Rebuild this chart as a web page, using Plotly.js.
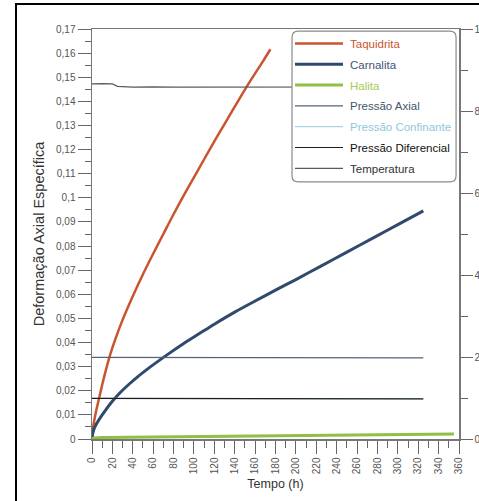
<!DOCTYPE html>
<html>
<head>
<meta charset="utf-8">
<script src="https://cdn.plot.ly/plotly-3.0.1.min.js"></script>
<style>
html,body{margin:0;padding:0;background:#fff;overflow:hidden;}
#wrap{position:relative;width:479px;height:501px;}
#chart{width:479px;height:501px;}
#frame{position:absolute;left:15px;top:3px;width:480px;height:520px;border-left:2px solid #000;border-top:2px solid #000;pointer-events:none;}
</style>
</head>
<body>
<div id="wrap"><div id="chart"></div><div id="frame"></div></div>
<script>
// ---- data ----
const tTaq = [0,0.5,1,2,4,7,10,14,18,23,30,40,50,60,70,80,90,100,110,120,130,140,150,160,168,175];
const vTaq = [0,0.0028,0.0045,0.0072,0.0115,0.017,0.0225,0.0292,0.0352,0.0415,0.0494,0.0592,0.0683,0.0768,0.085,0.0932,0.101,0.1085,0.116,0.1234,0.1306,0.1378,0.1449,0.1516,0.1568,0.1616];

const tCar = [0,0.5,1,2,4,6,9,13,17,21,28,36,45,55,65,75,90,105,120,140,160,180,200,225,250,275,300,325];
const vCar = [0,0.0018,0.0028,0.0042,0.006,0.0074,0.0094,0.0118,0.0141,0.0162,0.0194,0.0226,0.0259,0.0292,0.0323,0.0353,0.0396,0.0436,0.0476,0.0526,0.0572,0.0617,0.0661,0.0718,0.0775,0.0832,0.0889,0.0946];

const tHal = [0,2,10,50,100,150,200,250,300,330,350,355];
const vHal = [0,0.0004,0.0006,0.0008,0.001,0.0012,0.0014,0.0016,0.0018,0.002,0.0021,0.0021];

const tPress = [0,10,20,25,40,60,80,100,120,140,160,180,200,220,240,260,280,300,315,320,325];
const vTemp  = [8.66,8.67,8.66,8.6,8.58,8.59,8.58,8.58,8.59,8.58,8.58,8.59,8.58,8.58,8.59,8.58,8.58,8.58,8.59,8.61,8.58];
const vAxial = [1.99,1.99,1.98,1.98,1.98,1.99,1.98,1.98,1.99,1.98,1.98,1.98,1.99,1.98,1.98,1.98,1.99,1.98,1.98,1.99,1.98];
const vConf  = [0.99,0.99,0.98,0.98,0.98,0.98,0.98,0.98,0.98,0.98,0.98,0.98,0.98,0.98,0.98,0.98,0.98,0.98,0.98,0.99,0.98];
const vDif   = [0.99,0.99,0.98,0.98,0.98,0.99,0.98,0.98,0.98,0.99,0.98,0.98,0.98,0.99,0.98,0.98,0.98,0.98,0.99,0.99,0.98];

const names = ['Taquidrita','Carnalita','Halita','Pressão Axial','Pressão Confinante','Pressão Diferencial','Temperatura'];
const colors = ['#c9552f','#2f4a6c','#8fc043','#56627a','#a9d5e6','#1e1e1e','#5a5a5a'];
const textColors = ['#c9552f','#3d5575','#a6cc55','#44546a','#8ec8dc','#111111','#333333'];

function nm(i){ return '<span style="color:'+textColors[i]+'">'+names[i]+'</span>'; }

const traces = [
  {x:tTaq, y:vTaq, name:nm(0), line:{color:colors[0], width:2.5, shape:'spline', smoothing:0.8}},
  {x:tCar, y:vCar, name:nm(1), line:{color:colors[1], width:3, shape:'spline', smoothing:0.8}},
  {x:tHal, y:vHal, name:nm(2), line:{color:colors[2], width:3}},
  {x:tPress, y:vAxial, name:nm(3), yaxis:'y2', line:{color:colors[3], width:1.2}},
  {x:tPress, y:vConf, name:nm(4), yaxis:'y2', line:{color:colors[4], width:1.2}},
  {x:tPress, y:vDif, name:nm(5), yaxis:'y2', line:{color:colors[5], width:1.2}},
  {x:tPress, y:vTemp, name:nm(6), yaxis:'y2', line:{color:colors[6], width:1.2}}
].map((t,i)=>Object.assign({type:'scatter', mode:'lines', legendgroup:'g'+i}, t));

// rounded legend box in paper coordinates
const bx0=0.545, bx1=0.992, by0=0.627, by1=0.995, rx=0.017, ry=0.015;
const boxPath = `M${bx0+rx},${by1} L${bx1-rx},${by1} Q${bx1},${by1} ${bx1},${by1-ry} L${bx1},${by0+ry} Q${bx1},${by0} ${bx1-rx},${by0} L${bx0+rx},${by0} Q${bx0},${by0} ${bx0},${by0+ry} L${bx0},${by1-ry} Q${bx0},${by1} ${bx0+rx},${by1} Z`;

const tickFont = {family:'Liberation Sans, Arial, sans-serif', size:10, color:'#555'};

const layout = {
  width:479, height:501,
  margin:{l:92, r:20, t:29, b:62},
  paper_bgcolor:'#fff', plot_bgcolor:'#fff',
  separators:',.',
  font:{family:'Liberation Sans, Arial, sans-serif', color:'#333'},
  showlegend:true,
  legend:{x:bx0, y:1.0, xanchor:'left', yanchor:'top', bgcolor:'rgba(0,0,0,0)', borderwidth:0,
          font:{size:11.5, family:'Liberation Sans, Arial, sans-serif'}, tracegroupgap:1.8, itemwidth:48, traceorder:'grouped'},
  xaxis:{range:[0,360], dtick:20, tick0:0, ticks:'outside', ticklen:13, tickcolor:'#666', tickwidth:1,
         minor:{dtick:10, ticks:'outside', ticklen:7, tickcolor:'#666'},
         tickangle:-90, tickfont:tickFont, showgrid:false, zeroline:false,
         showline:true, linecolor:'#777', linewidth:1.5, mirror:true,
         title:{text:'Tempo (h)', font:{size:12.5, color:'#333'}, standoff:6}},
  yaxis:{range:[0,0.17], dtick:0.01, tick0:0, ticks:'outside', ticklen:13, tickcolor:'#666', tickwidth:1,
         minor:{dtick:0.005, ticks:'outside', ticklen:6, tickcolor:'#666'},
         tickfont:tickFont, showgrid:false, zeroline:false, showline:true, linecolor:'#777', linewidth:1.5,
         title:{text:'Deformação Axial Específica', font:{size:14.5, color:'#333'}, standoff:8}},
  yaxis2:{overlaying:'y', side:'right', range:[0,10], dtick:2, tick0:0, ticks:'outside', ticklen:12, tickcolor:'#666',
          minor:{dtick:1, ticks:'outside', ticklen:7, tickcolor:'#666'},
          tickfont:tickFont, showgrid:false, zeroline:false, showline:true, linecolor:'#777', linewidth:1.5},
  shapes:[{type:'path', xref:'paper', yref:'paper', path:boxPath, fillcolor:'#fff', line:{color:'#8a8a8a', width:1.2}, layer:'above'}]
};

Plotly.newPlot('chart', traces, layout, {staticPlot:true, displayModeBar:false}).then(function(gd){
  // lengthen legend line samples to match the reference
  gd.querySelectorAll('.legend .legendlines path').forEach(function(p){ p.setAttribute('d','M3,0h48'); });
});
</script>
</body>
</html>
